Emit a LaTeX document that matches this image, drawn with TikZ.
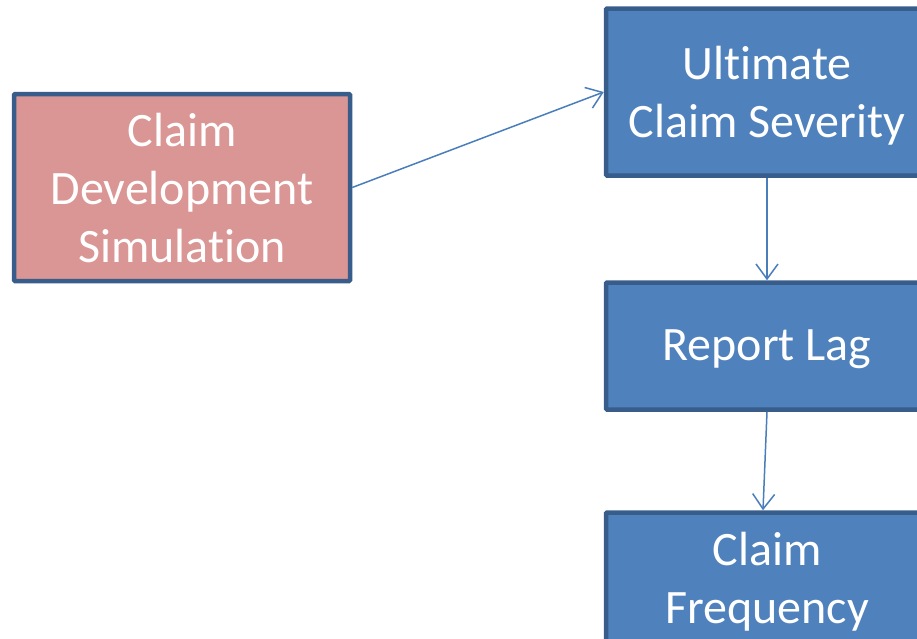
\documentclass[tikz,border=0pt]{standalone}
\usepackage{fontspec}
\setmainfont{Carlito}[Ligatures=NoCommon]
\usetikzlibrary{arrows.meta}
\definecolor{pinkfill}{HTML}{D99694}
\definecolor{bluefill}{HTML}{4F81BD}
\definecolor{boxborder}{HTML}{385D8A}
\definecolor{arrowcol}{HTML}{4A7EBB}
\tikzset{
  box/.style={draw=boxborder, line width=4.5pt, rounded corners=1pt, inner sep=0pt},
  boxtext/.style={text=white, align=center, inner sep=0pt, font=\fontsize{48}{58}\selectfont},
  pinkbox/.style={box, fill=pinkfill},
  bluebox/.style={box, fill=bluefill},
  conn/.style={draw=arrowcol, line width=1.5pt, -{Straight Barb[length=15pt,width=22pt,line width=1.5pt]}}
}
\begin{document}
\begin{tikzpicture}[x=1pt,y=-1pt]
\useasboundingbox (0,0) rectangle (917,638);
\clip (0,0) rectangle (917,638);
\node[pinkbox, minimum width=336pt, minimum height=187pt,
  label={[boxtext,yshift=-1pt]center:Claim\\Development\\Simulation}] (sim) at (182,187.5) {};
\node[bluebox, minimum width=322pt, minimum height=167pt,
  label={[boxtext,yshift=-4pt]center:Ultimate\\Claim Severity}] (sev) at (767,92) {};
\node[bluebox, minimum width=322pt, minimum height=127pt,
  label={[boxtext,yshift=-3pt]center:Report Lag}] (lag) at (767,346) {};
\node[bluebox, minimum width=322pt, minimum height=134pt,
  label={[boxtext,yshift=-2pt]center:Claim\\Frequency}] (freq) at (767,579.5) {};
\draw[conn] (sim.east) -- (sev.west);
\draw[conn] (sev.south) -- (lag.north);
\draw[conn] (lag.south) -- ([xshift=-4pt]freq.north);
\end{tikzpicture}
\end{document}
